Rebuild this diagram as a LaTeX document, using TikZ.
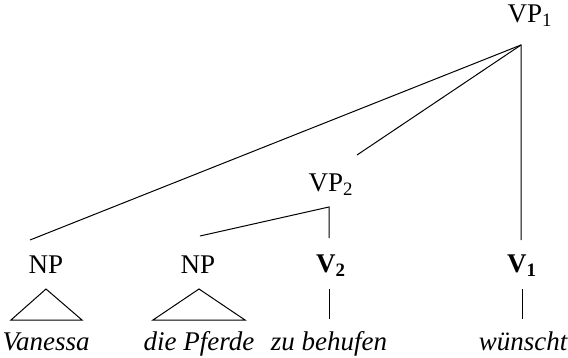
\documentclass[tikz,border=0pt]{standalone}
\usepackage{fontspec}
\setmainfont{Liberation Serif}
\begin{document}
\begin{tikzpicture}[x=0.5pt,y=-0.5pt,
  lbl/.style={inner sep=0pt,font=\fontsize{13.5}{16}\selectfont},
  word/.style={inner sep=0pt,font=\fontsize{13.5}{16}\selectfont\itshape},
  edge/.style={line width=0.5pt}]
\useasboundingbox (0,0) rectangle (568,358);
% labels
\node[lbl] (vp1) at (530,16) {VP\textsubscript{1}};
\node[lbl] (vp2) at (331,185) {VP\textsubscript{2}};
\node[lbl] (np1) at (46,265) {NP};
\node[lbl] (np2) at (198,265) {NP};
\node[lbl] (v2) at (331,266) {\textbf{V\textsubscript{2}}};
\node[lbl] (v1) at (522,266) {\textbf{V\textsubscript{1}}};
% words
\node[word,anchor=base] (w1) at (46,350) {Vanessa};
\node[word,anchor=base] (w2) at (199,350) {die Pferde};
\node[word,anchor=base] (w3) at (329,350) {zu behufen};
\node[word,anchor=base] (w4) at (523,350) {wünscht};
% connector points
\coordinate (t1) at (521,45);
\coordinate (b1) at (30,240);
\coordinate (e2) at (357,155);
\coordinate (b4) at (521,240);
\coordinate (t2) at (329,207);
\coordinate (b2) at (200,236);
\coordinate (b3) at (329,238);
\draw[edge] (b1) -- (t1) -- (b4);
\draw[edge] (t1) -- (e2);
\draw[edge] (b2) -- (t2) -- (b3);
% triangles
\coordinate (a1) at (46,289);
\coordinate (a2) at (199,289);
\draw[edge] (a1) -- (11,320) -- (82,320) -- cycle;
\draw[edge] (a2) -- (153,320) -- (245,320) -- cycle;
% unary lines
\coordinate (u1) at (329,289);
\coordinate (u2) at (329,319);
\coordinate (u3) at (522,289);
\coordinate (u4) at (522,319);
\draw[edge] (u1) -- (u2);
\draw[edge] (u3) -- (u4);
\end{tikzpicture}
\end{document}
